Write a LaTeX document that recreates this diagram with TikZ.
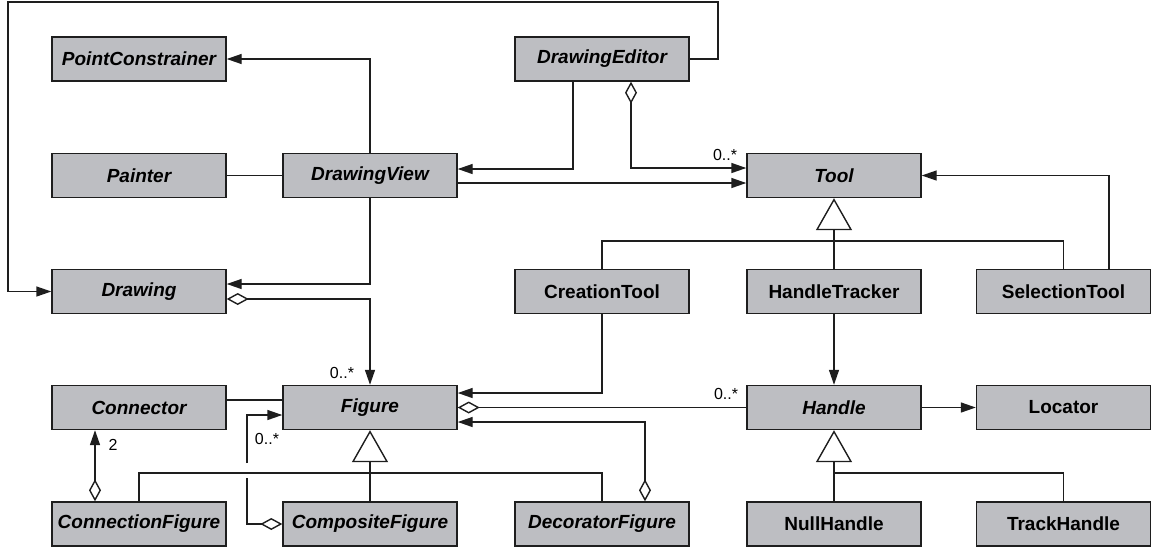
\documentclass[tikz,border=0pt]{standalone}
\usepackage{fontspec}
\setmainfont{Liberation Sans}
\usetikzlibrary{arrows.meta}
\definecolor{boxfill}{RGB}{189,190,194}
\definecolor{ink}{RGB}{30,30,30}
\begin{document}
\begin{tikzpicture}[x=1pt,y=-1pt,
  cls/.style={draw=ink, fill=boxfill, line width=1.4pt, minimum width=174pt, minimum height=44pt, inner sep=0pt, font=\fontsize{19}{22}\selectfont\bfseries\itshape},
  cbox/.style={cls, font=\fontsize{19}{22}\selectfont\bfseries},
  conn/.style={draw=ink, line width=1.4pt},
  arr/.style={conn, -{Triangle[length=15pt,width=10pt]}},
  aggarr/.style={conn, {Diamond[fill=white,length=22pt,width=12pt]}-{Triangle[length=15pt,width=10pt]}},
  aggline/.style={conn, {Diamond[fill=white,length=22pt,width=12pt]}-},
  gen/.style={conn, -{Triangle[open,fill=white,length=32pt,width=36pt]}},
  mult/.style={font=\fontsize{16}{18}\selectfont, inner sep=0pt}]
\useasboundingbox (0,0) rectangle (1151,550);
% row 1
\node[cls] (PC) at (139,59) {PointConstrainer};
\node[cls] (DE) at (602,59) {DrawingEditor};
% row 2
\node[cls] (Pa) at (139,175.5) {Painter};
\node[cls] (DV) at (370,175.5) {DrawingView};
\node[cls] (T) at (834,175.5) {Tool};
% row 3
\node[cls] (Dw) at (139,291.5) {Drawing};
\node[cbox] (CT) at (602,291.5) {CreationTool};
\node[cbox] (HT) at (834,291.5) {HandleTracker};
\node[cbox] (ST) at (1063.5,291.5) {SelectionTool};
% row 4
\node[cls] (Co) at (139,407.5) {Connector};
\node[cls] (F) at (370,407.5) {Figure};
\node[cls] (H) at (834,407.5) {Handle};
\node[cbox] (Lo) at (1063.5,407.5) {Locator};
% row 5
\node[cls] (CnF) at (139,524) {ConnectionFigure};
\node[cls] (CpF) at (370,524) {CompositeFigure};
\node[cls] (DF) at (602,524) {DecoratorFigure};
\node[cbox] (NH) at (834,524) {NullHandle};
\node[cbox] (TH) at (1063.5,524) {TrackHandle};
% helper coordinates
\coordinate (loopR) at (718,2);
\coordinate (loopL) at (8,2);
\coordinate (cpA) at (247,478);
\coordinate (cpB) at (247,463);
\coordinate (fbar) at (370,473);
\coordinate (hbar) at (834,473);
\coordinate (tbar) at (834,241);
% connectors
\draw[arr] (DE.east) -| (loopR) -- (loopL) |- (Dw.west);
\draw[arr] (DV.north) |- (PC.east);
\draw[conn] (Pa.east) -- (DV.west);
\draw[arr] ([xshift=-29pt]DE.south) |- ([yshift=6.5pt]DV.east);
\draw[aggarr] ([xshift=29pt]DE.south) |- ([yshift=7.5pt]T.west);
\node[mult] (m1) at (725,155) {0..*};
\draw[arr] ([yshift=-7.5pt]DV.east) -- ([yshift=-7.5pt]T.west);
\draw[arr] (DV.south) |- ([yshift=7.5pt]Dw.east);
\draw[aggarr] ([yshift=-7.5pt]Dw.east) -| (F.north);
\node[mult] (m2) at (342,373) {0..*};
\draw[conn] ([yshift=7.5pt]Co.east) -- ([yshift=7.5pt]F.west);
\draw[aggarr] ([xshift=-44pt]CnF.north) -- ([xshift=-44pt]Co.south);
\node[mult] (m3) at (113,445) {2};
\draw[aggline] (CpF.west) -| (cpA);
\draw[arr] (cpB) |- ([yshift=-7.5pt]F.west);
\node[mult] (m4) at (267,439) {0..*};
\draw[gen] (CpF.north) -- (F.south);
\draw[conn] (CnF.north) |- (fbar) -| (DF.north);
\draw[arr] (CT.south) |- ([yshift=14.5pt]F.east);
\draw[aggline] (F.east) -- (H.west);
\node[mult] (m5) at (726,394) {0..*};
\draw[aggarr] ([xshift=43pt]DF.north) |- ([yshift=-14.5pt]F.east);
\draw[arr] (HT.south) -- (H.north);
\draw[arr] (H.east) -- (Lo.west);
\draw[gen] (NH.north) -- (H.south);
\draw[conn] (hbar) -| (TH.north);
\draw[gen] (HT.north) -- (T.south);
\draw[conn] (CT.north) |- (tbar) -| (ST.north);
\draw[arr] ([xshift=45.5pt]ST.north) |- (T.east);
\end{tikzpicture}
\end{document}
